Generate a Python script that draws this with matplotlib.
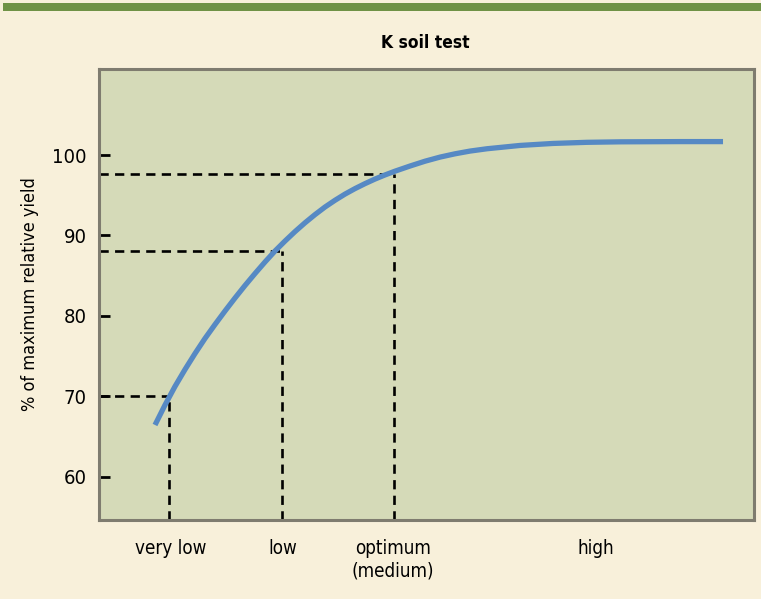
import matplotlib.pyplot as plt
from matplotlib.patches import Rectangle

# yield response curve (x in soil-test units, 0-100 across the plot)
curve_x = [8.55, 10.08, 11.60, 13.13, 14.66, 16.18, 17.71, 19.24, 20.76, 22.29,
           23.82, 25.34, 26.87, 28.40, 29.92, 31.45, 32.98, 34.50, 36.03, 37.56,
           39.08, 40.61, 42.14, 43.66, 45.19, 47.48, 49.77, 52.06, 54.35, 56.64,
           59.24, 64.27, 69.31, 74.50, 79.54, 88.70, 95.27]
curve_y = [66.42, 68.91, 71.21, 73.32, 75.31, 77.18, 78.92, 80.60, 82.21, 83.77,
           85.26, 86.69, 88.06, 89.30, 90.47, 91.57, 92.59, 93.53, 94.37, 95.14,
           95.82, 96.44, 97.01, 97.52, 97.99, 98.63, 99.23, 99.74, 100.15, 100.49,
           100.78, 101.19, 101.44, 101.58, 101.64, 101.67, 101.67]

# critical levels marked with dashed guides
guide_x = [10.7, 27.9, 45.1]
guide_y = [70.0, 88.0, 97.6]

# soil test classes along the bottom
class_pos = [11.0, 28.1, 44.9, 75.9]
class_labels = ['very low', 'low', 'optimum\n(medium)', 'high']

y_ticks = [60, 70, 80, 90, 100]

plt.rcParams['font.family'] = ['DejaVu Sans']
plt.rcParams['font.stretch'] = 'condensed'

W, H = 761, 599
fig = plt.figure(figsize=(W / 100, H / 100), dpi=100)
fig.patch.set_facecolor('#f8f0da')

# green band across the top
fig.add_artist(Rectangle((3 / W, 1 - 11 / H), 1, 8 / H, transform=fig.transFigure,
                         facecolor='#6f9245', edgecolor='none'))

ax = fig.add_axes([99 / W, 79 / H, 655 / W, 451 / H])
ax.set_facecolor('#d5dab8')
for s in ax.spines.values():
    s.set_color('#7f7c6f')
    s.set_linewidth(2.2)

ax.set_xlim(0, 100)
ax.set_ylim(54.6, 110.7)

dash = dict(color='black', linewidth=1.9, linestyle=(0, (3.5, 2.4)), zorder=2)
for gx, gy in zip(guide_x, guide_y):
    ax.plot([0, gx], [gy, gy], **dash)
    ax.plot([gx, gx], [54.6, gy], **dash)

ax.plot(curve_x, curve_y, color='#5689c4', linewidth=3.8,
        solid_capstyle='butt', solid_joinstyle='round', zorder=3)

ax.set_yticks(y_ticks)
ax.set_yticklabels([str(v) for v in y_ticks])
ax.tick_params(axis='y', direction='in', length=8, width=2, color='black',
               labelsize=14.5, pad=9)
ax.set_xticks(class_pos)
ax.set_xticklabels(class_labels)
ax.tick_params(axis='x', length=0, labelsize=13.5, pad=14)

ax.set_ylabel('% of maximum relative yield', fontsize=13, labelpad=9)

fig.text(425 / W, 1 - 43 / H, 'K soil test', ha='center', va='center',
         fontsize=12.5, fontweight='bold')

fig.savefig('out.png', dpi=100, facecolor=fig.get_facecolor())
